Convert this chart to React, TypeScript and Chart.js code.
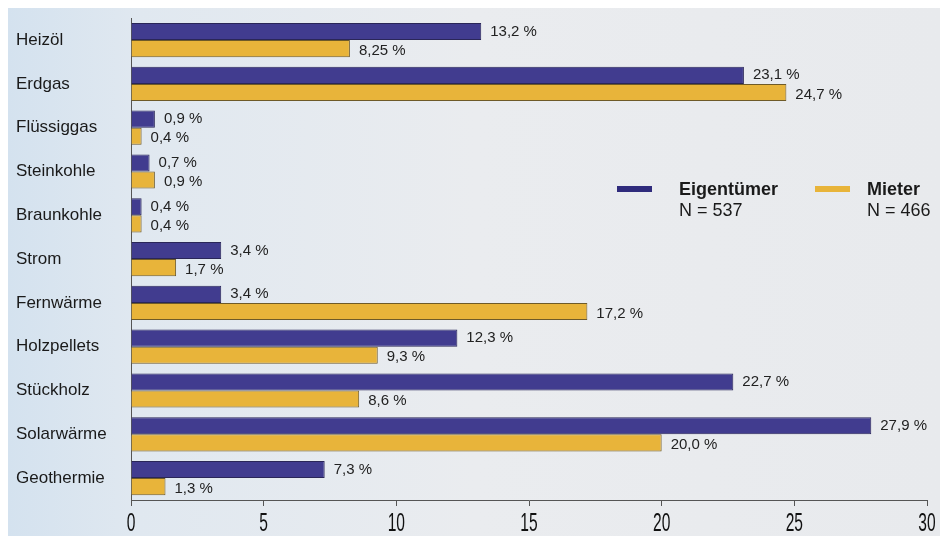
import React, { useEffect, useRef } from "react";
import { Chart, registerables } from "chart.js";

Chart.register(...registerables);

const categories = [
  "Heizöl",
  "Erdgas",
  "Flüssiggas",
  "Steinkohle",
  "Braunkohle",
  "Strom",
  "Fernwärme",
  "Holzpellets",
  "Stückholz",
  "Solarwärme",
  "Geothermie",
];

const eigentuemer = [13.2, 23.1, 0.9, 0.7, 0.4, 3.4, 3.4, 12.3, 22.7, 27.9, 7.3];
const mieter = [8.25, 24.7, 0.4, 0.9, 0.4, 1.7, 17.2, 9.3, 8.6, 20.0, 1.3];

const seriesNames = ["Eigentümer", "Mieter"];
const seriesN = ["N = 537", "N = 466"];
const xTicks = [0, 5, 10, 15, 20, 25, 30];

const fontFamily = "'Liberation Sans', Arial, Helvetica, sans-serif";

const colors = ["#413c8f", "#e8b43a"];
const borders = ["#2a2658", "#6e5a28"];

const fmt = (v: number) =>
  v.toLocaleString("de-DE", { minimumFractionDigits: 1, maximumFractionDigits: 2 }) + " %";

const backgroundPlugin = {
  id: "bg",
  beforeDraw(chart: any) {
    const { ctx, width, height } = chart;
    ctx.save();
    ctx.fillStyle = "#ffffff";
    ctx.fillRect(0, 0, width, height);
    const g = ctx.createLinearGradient(8, 0, 940, 0);
    g.addColorStop(0, "#d4e2ef");
    g.addColorStop(0.14, "#e0e8f0");
    g.addColorStop(0.5, "#eaecef");
    g.addColorStop(1, "#e8eaed");
    ctx.fillStyle = g;
    ctx.fillRect(8, 8, 932, height - 8);
    ctx.restore();
  },
};

const labelPlugin = {
  id: "valueLabels",
  afterDatasetsDraw(chart: any) {
    const { ctx } = chart;
    ctx.save();
    ctx.font = `15px ${fontFamily}`;
    ctx.fillStyle = "#222";
    ctx.textAlign = "left";
    ctx.textBaseline = "middle";
    chart.data.datasets.forEach((ds: any, di: number) => {
      const meta = chart.getDatasetMeta(di);
      meta.data.forEach((bar: any, i: number) => {
        const v = ds.data[i];
        ctx.fillText(fmt(v), bar.x + 9, bar.y + (di === 1 ? 2 : 0));
      });
    });
    ctx.restore();
  },
};

const xTickPlugin = {
  id: "narrowTicks",
  afterDraw(chart: any) {
    const { ctx } = chart;
    const xs = chart.scales.x;
    ctx.save();
    ctx.fillStyle = "#111";
    ctx.font = `26px ${fontFamily}`;
    ctx.textAlign = "center";
    ctx.textBaseline = "middle";
    xTicks.forEach((v) => {
      const px = xs.getPixelForValue(v);
      ctx.save();
      ctx.translate(px, xs.top + 24);
      ctx.scale(0.6, 1);
      ctx.fillText(String(v), 0, 0);
      ctx.restore();
    });
    ctx.restore();
  },
};

const legendPlugin = {
  id: "customLegend",
  afterDraw(chart: any) {
    const { ctx } = chart;
    const xs = [617, 815];
    const textOff = [62, 52];
    ctx.save();
    seriesNames.forEach((name, i) => {
      const x = xs[i];
      ctx.fillStyle = i === 0 ? "#2f2b7c" : "#e8b43a";
      ctx.fillRect(x, 186, 35, 6);
      ctx.fillStyle = "#1a1a1a";
      ctx.textAlign = "left";
      ctx.textBaseline = "middle";
      ctx.font = `bold 18px ${fontFamily}`;
      ctx.fillText(name, x + textOff[i], 190);
      ctx.font = `18px ${fontFamily}`;
      ctx.fillText(seriesN[i], x + textOff[i], 211);
    });
    ctx.restore();
  },
};

export default function App() {
  const ref = useRef<HTMLCanvasElement | null>(null);

  useEffect(() => {
    document.body.style.margin = "0";
    const canvas = ref.current;
    if (!canvas) return;
    const chart = new Chart(canvas, {
      type: "bar",
      data: {
        labels: categories,
        datasets: [
          {
            label: seriesNames[0],
            data: eigentuemer,
            backgroundColor: colors[0],
            borderColor: borders[0],
            borderWidth: 1,
            categoryPercentage: 0.78,
            barPercentage: 1,
          },
          {
            label: seriesNames[1],
            data: mieter,
            backgroundColor: colors[1],
            borderColor: borders[1],
            borderWidth: 1,
            categoryPercentage: 0.78,
            barPercentage: 1,
          },
        ],
      },
      options: {
        indexAxis: "y",
        responsive: false,
        animation: false,
        events: [],
        layout: { padding: { top: 17, left: 16, right: 20, bottom: 0 } },
        plugins: {
          legend: { display: false },
          tooltip: { enabled: false },
        },
        scales: {
          x: {
            min: 0,
            max: 30,
            afterBuildTicks(axis: any) {
              axis.ticks = xTicks.map((v) => ({ value: v }));
            },
            afterFit(axis: any) {
              axis.height = 36;
            },
            grid: {
              drawOnChartArea: false,
              drawTicks: true,
              tickLength: 6,
              color: "#555",
            },
            border: { display: true, color: "#555", width: 1 },
            ticks: { display: false },
          },
          y: {
            grid: { display: false, drawTicks: false },
            border: { display: true, color: "#555", width: 1 },
            afterFit(axis: any) {
              axis.width = 115;
            },
            ticks: {
              crossAlign: "far",
              color: "#1a1a1a",
              padding: 8,
              font: { family: fontFamily, size: 17 },
            },
          },
        },
      },
      plugins: [backgroundPlugin, labelPlugin, xTickPlugin, legendPlugin],
    } as any);
    return () => chart.destroy();
  }, []);

  return <canvas ref={ref} width={947} height={536} style={{ display: "block" }} />;
}
